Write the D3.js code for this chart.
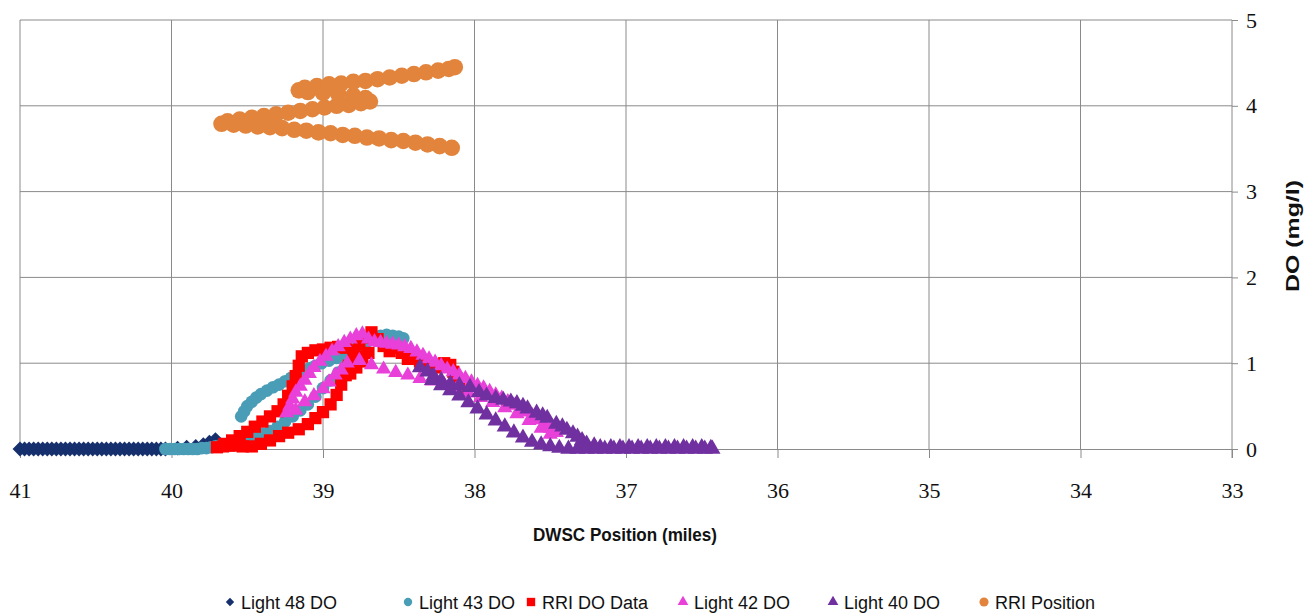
<!DOCTYPE html>
<html>
<head>
<meta charset="utf-8">
<script src="https://cdn.jsdelivr.net/npm/d3@7"></script>
<style>
  html, body { margin: 0; padding: 0; background: #fff; }
  #chart svg { display: block; }
</style>
</head>
<body>
<div id="chart"></div>
<script>
// x ticks run from 41 (left) down to 33 (right)
const xTicks = [41, 40, 39, 38, 37, 36, 35, 34, 33];
const yTicks = [0, 1, 2, 3, 4, 5];

// [DWSC position (miles), DO (mg/l)]
const light48 = [
  [41.00,0],[40.97,0],[40.94,0],[40.91,0],[40.88,0],[40.85,0],[40.82,0],[40.79,0],[40.76,0],
  [40.73,0],[40.70,0],[40.67,0],[40.64,0],[40.61,0],[40.58,0],[40.55,0],[40.52,0],[40.49,0],
  [40.46,0],[40.43,0],[40.40,0],[40.37,0],[40.34,0],[40.31,0],[40.28,0],[40.25,0],[40.22,0],
  [40.19,0],[40.16,0],[40.13,0],[40.10,0],[40.07,0],[40.04,0],[39.96,0.01],[39.90,0.02],
  [39.84,0.03],[39.79,0.05],[39.75,0.08],[39.71,0.11]
];

const light43 = [
  [40.04,0],[40.01,0],[39.98,0],[39.95,0],[39.92,0],[39.89,0],[39.86,0],[39.83,0],[39.80,0.01],
  [39.77,0.01],[39.74,0.02],[39.71,0.03],[39.68,0.04],
  [39.64,0.05],[39.60,0.07],[39.55,0.09],[39.50,0.12],[39.45,0.15],[39.40,0.18],[39.35,0.21],
  [39.30,0.26],[39.25,0.32],[39.20,0.38],[39.15,0.45],[39.10,0.52],[39.05,0.61],[39.00,0.71],
  [38.95,0.80],[38.90,0.89],[38.85,0.97],[38.80,1.04],
  [39.54,0.38],[39.52,0.44],[39.50,0.50],[39.47,0.55],[39.44,0.60],[39.41,0.64],[39.37,0.68],
  [39.33,0.72],[39.29,0.75],[39.25,0.79],[39.21,0.83],[39.17,0.87],[39.13,0.91],[39.09,0.94],
  [39.05,0.97],[39.01,1.00],[38.96,1.03],[38.91,1.06],
  [38.86,1.10],[38.82,1.14],[38.78,1.18],[38.74,1.22],[38.70,1.26],[38.66,1.29],[38.62,1.32],
  [38.58,1.33],[38.54,1.32],[38.50,1.31],[38.47,1.29]
];

const rriDO = [
  [39.70,0.02],[39.66,0.03],[39.62,0.04],[39.58,0.04],[39.53,0.03],[39.47,0.03],[39.41,0.06],
  [39.35,0.10],[39.29,0.15],[39.23,0.19],[39.16,0.23],[39.10,0.29],[39.05,0.36],[39.00,0.43],
  [38.95,0.52],[38.91,0.63],[38.88,0.75],[38.85,0.86],[38.83,0.97],
  [39.65,0.06],[39.60,0.10],[39.55,0.15],[39.50,0.20],[39.45,0.26],[39.40,0.32],[39.35,0.38],
  [39.30,0.44],[39.26,0.52],[39.23,0.62],[39.20,0.73],[39.18,0.85],[39.16,0.97],[39.14,1.08],
  [39.10,1.12],[39.05,1.15],[39.00,1.16],[38.95,1.18],[38.90,1.19],
  [38.82,0.88],[38.78,0.95],[38.74,1.02],[38.80,1.02],[38.75,1.08],[38.70,1.12],
  [38.85,1.18],[38.80,1.15],[38.76,1.22],[38.72,1.30],[38.68,1.36],[38.64,1.28],[38.60,1.20],
  [38.56,1.14],[38.52,1.18],[38.48,1.12],[38.44,1.05],[38.40,1.08],[38.36,1.02],[38.30,0.98],
  [38.25,0.95],[38.20,1.00],[38.16,0.98],[38.14,0.90],[38.12,0.82],[38.10,0.74],[38.08,0.68]
];

const light42 = [
  [39.24,0.42],[39.22,0.50],[39.20,0.58],[39.18,0.66],[39.15,0.73],[39.12,0.80],[39.09,0.88],
  [39.06,0.95],[39.02,1.02],[38.98,1.08],[38.94,1.14],[38.90,1.19],[38.86,1.24],[38.82,1.28],
  [38.78,1.32],[38.74,1.34],
  [39.18,0.45],[39.12,0.55],[39.06,0.62],[39.00,0.70],[38.96,0.78],[38.92,0.86],[38.88,0.92],
  [38.70,1.28],[38.66,1.25],[38.62,1.24],[38.58,1.23],[38.54,1.22],[38.50,1.21],[38.46,1.19],
  [38.42,1.17],[38.38,1.13],[38.34,1.09],[38.30,1.05],[38.26,1.01],[38.22,0.97],[38.18,0.93],
  [38.14,0.90],[38.10,0.86],[38.06,0.82],[38.02,0.78],[37.98,0.74],[37.94,0.71],[37.90,0.67],
  [37.86,0.63],[37.82,0.59],[37.78,0.55],[37.74,0.51],[37.70,0.47],[37.66,0.43],[37.62,0.39],
  [37.58,0.34],[37.54,0.29],[37.50,0.24],[37.46,0.19],
  [38.84,1.00],[38.76,1.03],[38.68,0.98],[38.60,0.93],[38.52,0.89],[38.44,0.86],[38.36,0.82],
  [38.28,0.79],[38.20,0.75],[38.12,0.70],[38.04,0.65],[37.96,0.60],[37.88,0.54],[37.80,0.48],
  [37.72,0.41],[37.64,0.33],[37.56,0.24],[37.50,0.17]
];

const light40 = [
  [38.36,0.95],[38.31,0.90],[38.27,0.85],[38.22,0.80],[38.16,0.76],[38.10,0.74],[38.03,0.72],
  [37.97,0.66],[37.92,0.62],[37.86,0.59],[37.81,0.57],[37.76,0.55],[37.72,0.53],[37.68,0.50],
  [37.65,0.47],[37.59,0.42],[37.55,0.39],[37.52,0.36],[37.46,0.29],[37.42,0.26],[37.39,0.22],
  [37.35,0.18],[37.32,0.14],[37.29,0.10],[37.26,0.06],[37.21,0.04],[37.17,0.02],
  [37.10,0.02],[37.04,0.02],[36.98,0.02],[36.92,0.02],[36.86,0.02],[36.80,0.02],[36.74,0.02],
  [36.68,0.02],[36.62,0.02],[36.56,0.02],[36.50,0.02],[36.44,0.01],
  [38.28,0.80],[38.22,0.74],[38.16,0.68],[38.10,0.62],[38.04,0.54],[37.98,0.47],[37.92,0.40],
  [37.86,0.33],[37.80,0.26],[37.74,0.19],[37.68,0.13],[37.62,0.08],[37.56,0.05],[37.50,0.03],
  [37.44,0.01],[37.38,0],[37.32,0],[37.26,0],[37.20,0],[37.14,0],[37.08,0],[37.02,0],[36.96,0],
  [36.90,0],[36.84,0],[36.78,0],[36.72,0],[36.66,0],[36.60,0],[36.54,0],[36.48,0],[36.43,0]
];

const rriPosition = [
  [38.15,3.51],[38.23,3.53],[38.31,3.55],[38.39,3.57],[38.47,3.59],[38.55,3.60],[38.63,3.62],
  [38.71,3.63],[38.79,3.65],[38.87,3.66],[38.95,3.68],[39.03,3.69],[39.11,3.71],[39.19,3.72],
  [39.27,3.74],[39.35,3.75],[39.43,3.76],[39.51,3.77],[39.59,3.78],[39.67,3.79],
  [39.63,3.82],[39.55,3.84],[39.47,3.86],[39.39,3.88],[39.31,3.90],[39.23,3.92],[39.15,3.94],
  [39.07,3.96],[38.99,3.98],[38.91,4.00],[38.83,4.01],[38.75,4.03],[38.69,4.05],
  [38.72,4.09],[38.80,4.12],[38.90,4.14],[39.00,4.15],[39.10,4.16],[39.16,4.18],
  [39.12,4.21],[39.04,4.23],[38.96,4.25],[38.88,4.26],[38.80,4.28],[38.72,4.29],[38.64,4.31],
  [38.56,4.33],[38.48,4.35],[38.40,4.37],[38.32,4.39],[38.24,4.41],[38.17,4.43],[38.13,4.45]
];

const series = [
  {name: 'Light 48 DO', data: light48, type: d3.symbolDiamond2, size: 140, legendSize: 45, color: '#16306E'},
  {name: 'Light 43 DO', data: light43, type: d3.symbolCircle, size: 125, legendSize: 55, color: '#4A9DB6'},
  {name: 'RRI DO Data', data: rriDO, type: d3.symbolSquare, size: 150, legendSize: 70, color: '#FF0000'},
  {name: 'Light 42 DO', data: light42, type: d3.symbolTriangle, size: 100, legendSize: 50, color: '#E840D8'},
  {name: 'Light 40 DO', data: light40, type: d3.symbolTriangle, size: 115, legendSize: 50, color: '#7030A0'},
  {name: 'RRI Position', data: rriPosition, type: d3.symbolCircle, size: 215, legendSize: 65, color: '#E2843C'}
];
const legendX = [230, 408, 531, 683, 833, 984];

const width = 1304, height = 613;
const plotLeft = 20, plotRight = 1232, plotTop = 20, plotBottom = 449;

const svg = d3.select('#chart').append('svg')
  .attr('width', width)
  .attr('height', height);

const x = d3.scaleLinear().domain([41, 33]).range([plotLeft, plotRight]);
const y = d3.scaleLinear().domain([0, 5]).range([plotBottom, plotTop]);

const gridColor = '#8a8a8a';
const tickFont = "'Liberation Serif', 'DejaVu Serif', serif";
const textFont = "'Liberation Sans', Arial, sans-serif";

// gridlines
svg.append('g').selectAll('line')
  .data(yTicks.filter(d => d > 0))
  .enter().append('line')
  .attr('x1', plotLeft).attr('x2', plotRight)
  .attr('y1', d => y(d)).attr('y2', d => y(d))
  .attr('stroke', gridColor).attr('stroke-width', 1);

svg.append('g').selectAll('line')
  .data(xTicks.filter(d => d !== 33))
  .enter().append('line')
  .attr('x1', d => x(d)).attr('x2', d => x(d))
  .attr('y1', plotTop).attr('y2', plotBottom)
  .attr('stroke', gridColor).attr('stroke-width', 1);

// x axis sits on DO = 0
const xAxis = svg.append('g')
  .attr('transform', `translate(0,${plotBottom})`)
  .call(d3.axisBottom(x).tickValues(xTicks).tickSize(9).tickPadding(24).tickSizeOuter(0).tickFormat(d3.format('d')));
xAxis.selectAll('path, line').attr('stroke', gridColor);
xAxis.selectAll('text')
  .style('font-family', tickFont)
  .style('font-size', '22px')
  .attr('fill', '#111');

// DO axis on the right
const yAxis = svg.append('g')
  .attr('transform', `translate(${plotRight},0)`)
  .call(d3.axisRight(y).tickValues(yTicks).tickSize(6).tickPadding(8).tickSizeOuter(0).tickFormat(d3.format('d')));
yAxis.select('path').remove();
yAxis.selectAll('line').attr('stroke', gridColor);
yAxis.selectAll('text')
  .style('font-family', tickFont)
  .style('font-size', '22px')
  .attr('fill', '#111');
svg.append('line')
  .attr('x1', plotRight).attr('x2', plotRight)
  .attr('y1', plotTop).attr('y2', plotBottom + 9)
  .attr('stroke', gridColor);

// markers
series.forEach(s => {
  const sym = d3.symbol().type(s.type).size(s.size);
  svg.append('g').selectAll('path')
    .data(s.data)
    .enter().append('path')
    .attr('d', sym)
    .attr('transform', d => `translate(${x(d[0])},${y(d[1])})`)
    .attr('fill', s.color);
});

// axis titles
svg.append('text')
  .attr('x', 625).attr('y', 541)
  .attr('text-anchor', 'middle')
  .attr('textLength', 184)
  .attr('lengthAdjust', 'spacingAndGlyphs')
  .style('font-family', textFont)
  .style('font-size', '19px')
  .style('font-weight', 'bold')
  .attr('fill', '#111')
  .text('DWSC Position (miles)');

svg.append('text')
  .attr('transform', 'translate(1299,236) rotate(-90)')
  .attr('text-anchor', 'middle')
  .attr('textLength', 112)
  .attr('lengthAdjust', 'spacingAndGlyphs')
  .style('font-family', textFont)
  .style('font-size', '19px')
  .style('font-weight', 'bold')
  .attr('fill', '#111')
  .text('DO  (mg/l)');

// legend
const legend = svg.append('g');
series.forEach((s, i) => {
  const g = legend.append('g').attr('transform', `translate(${legendX[i]},602)`);
  g.append('path')
    .attr('d', d3.symbol().type(s.type).size(s.legendSize))
    .attr('fill', s.color);
  g.append('text')
    .attr('x', 11).attr('y', 7)
    .style('font-family', textFont)
    .style('font-size', '18px')
    .attr('fill', '#111')
    .text(s.name);
});
</script>
</body>
</html>
